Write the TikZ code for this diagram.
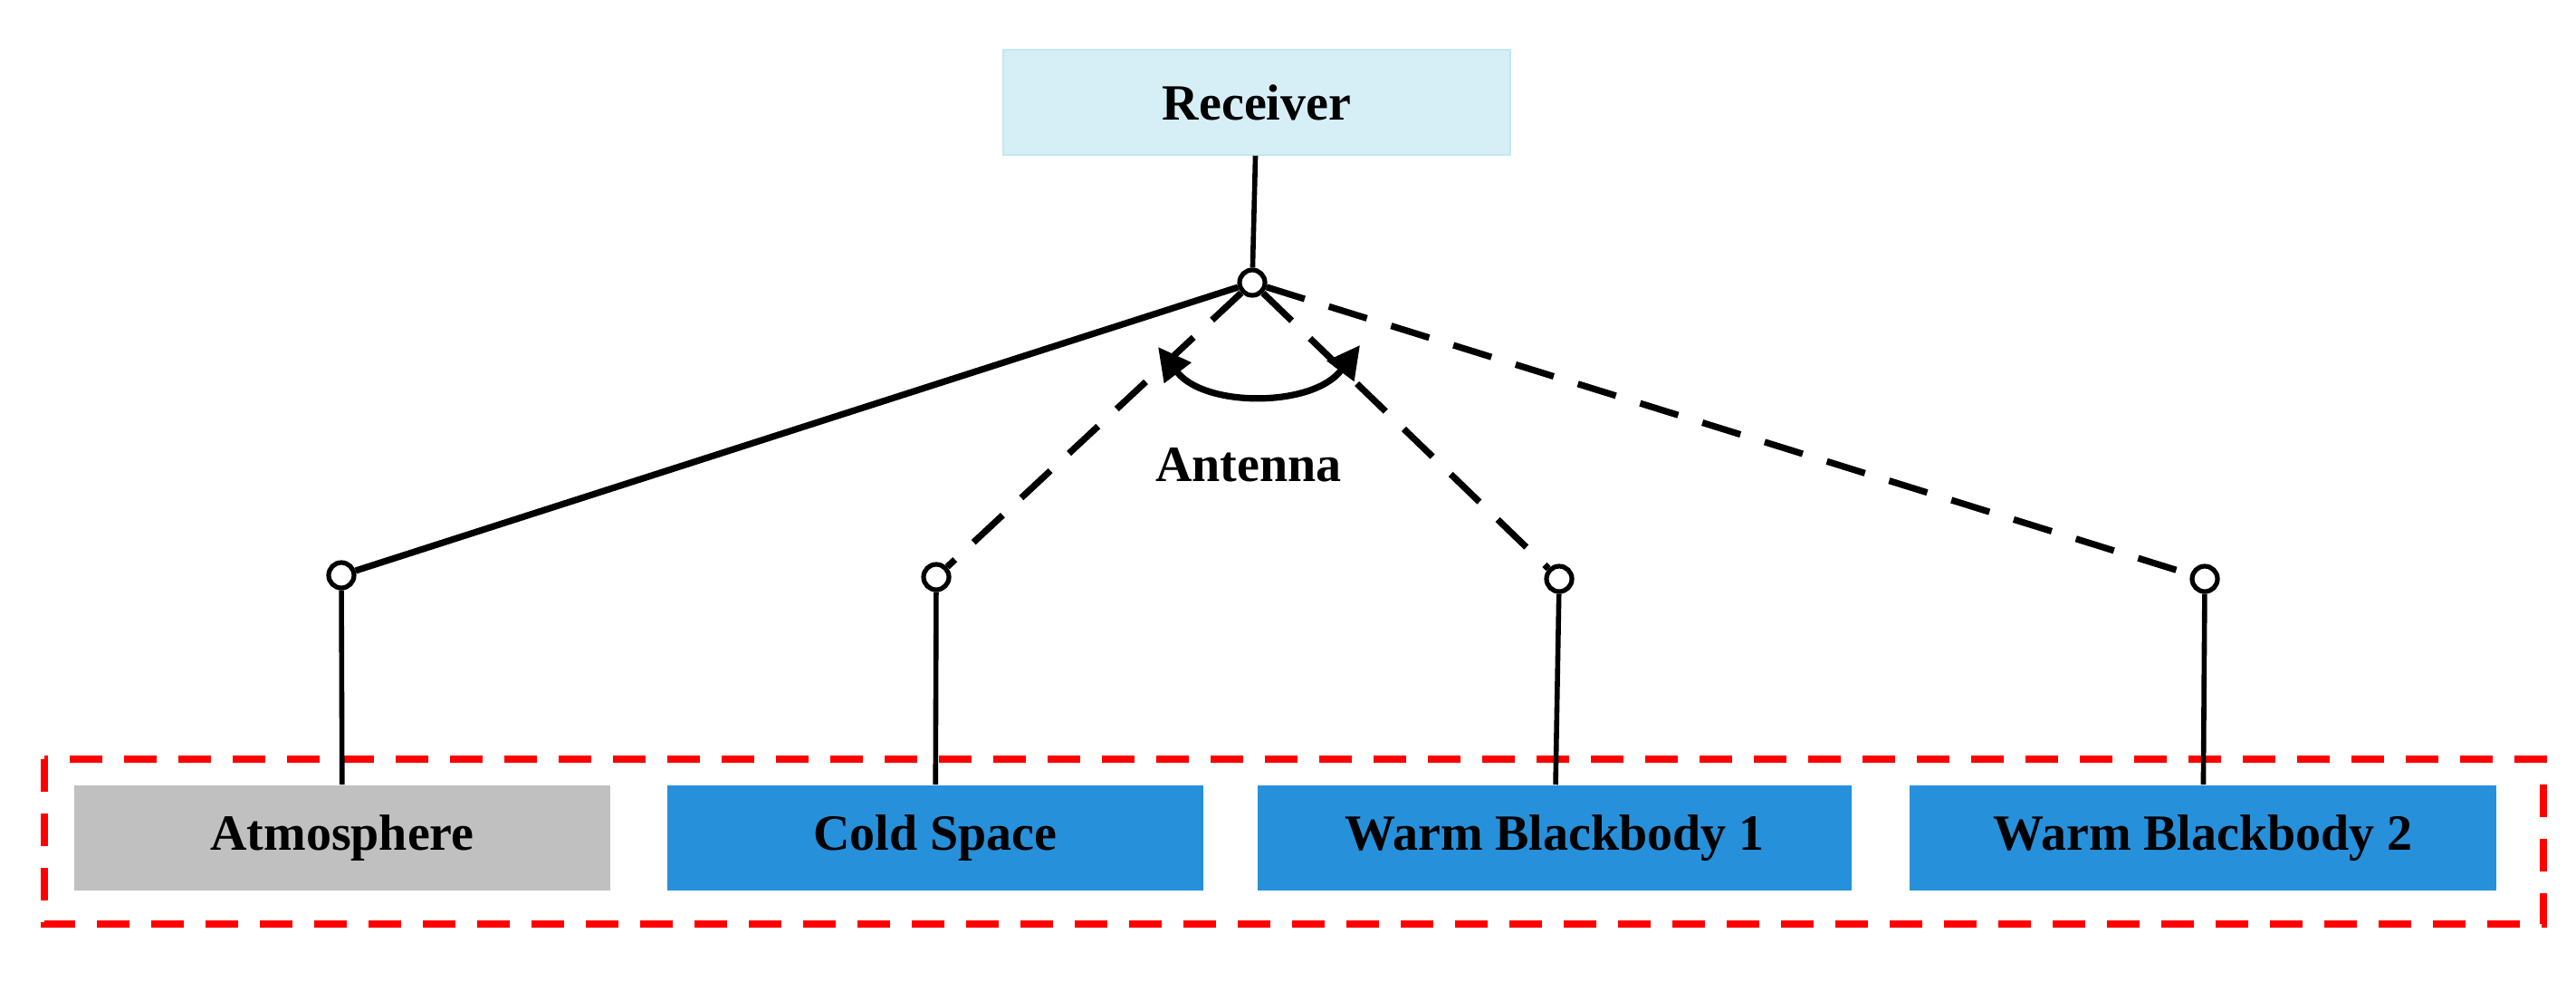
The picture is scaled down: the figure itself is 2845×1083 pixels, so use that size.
\documentclass[tikz,border=0pt]{standalone}
\usepackage{fontspec}
\setmainfont{Liberation Serif}
\usetikzlibrary{arrows.meta}
\definecolor{rcvColor}{HTML}{D6EEF5}
\definecolor{rcvLine}{HTML}{C2E8F2}
\definecolor{atmColor}{HTML}{C0C0C0}
\definecolor{srcColor}{HTML}{2690DA}
\definecolor{frameColor}{HTML}{FF0000}
\tikzset{
	box/.style={rectangle, minimum height=29pt, inner sep=0pt, font=\fontsize{14}{16}\selectfont\bfseries},
	port/.style={circle, draw=black, fill=white, line width=1.3pt, minimum size=7pt, inner sep=0pt},
	link/.style={line width=1.8pt},
	drop/.style={line width=1.4pt},
}
\begin{document}
\begin{tikzpicture}[x=0.25pt,y=0.25pt,yscale=-1]
		\useasboundingbox (0,0) rectangle (2845,1083);

		% Frame
		\draw [frameColor, line width=2.2pt, dash pattern=on 9pt off 6pt] (49,838) rectangle (2809,1020);

		% Boxes
		\node [box, fill=rcvColor, draw=rcvLine, minimum width=140pt] (rcv) at (1388,113) {Receiver};
		\node [box, fill=atmColor, minimum width=148pt] (atm)  at (378,925)  {Atmosphere};
		\node [box, fill=srcColor, minimum width=148pt] (cold) at (1033,925) {Cold Space};
		\node [box, fill=srcColor, minimum width=164pt] (wb1)  at (1717,925) {Warm Blackbody 1};
		\node [box, fill=srcColor, minimum width=162pt] (wb2)  at (2433,925) {Warm Blackbody 2};

		% Ports
		\node [port] (ant) at (1383,312) {};
		\node [port] (p1)  at (377,635)  {};
		\node [port] (p2)  at (1034,637) {};
		\node [port] (p3)  at (1722,639) {};
		\node [port] (p4)  at (2435,639) {};

		% Lines
		\draw [drop] (rcv) -- (ant);
		\draw [link] (ant) -- (p1);
		\draw [link, dash pattern=on 11pt off 7pt] (ant) -- (p2);
		\draw [link, dash pattern=on 11pt off 7pt] (ant) -- (p3);
		\draw [link, dash pattern=on 11pt off 7pt] (ant) -- (p4);
		\draw [drop] (p1) -- (atm);
		\draw [drop] (p2) -- (cold);
		\draw [drop] (p3) -- (wb1);
		\draw [drop] (p4) -- (wb2);

		% Scan arc
		\coordinate (arcL) at (1279,383);
		\coordinate (arcR) at (1502,381);
		\draw [link, {Triangle[length=9pt,width=9pt]}-{Triangle[length=9pt,width=9pt]}] (arcL) .. controls (1330,450) and (1450,450) .. (arcR);

		% Label
		\node [font=\fontsize{14}{16}\selectfont\bfseries] (lbl) at (1379,513) {Antenna};
	\end{tikzpicture}
\end{document}
